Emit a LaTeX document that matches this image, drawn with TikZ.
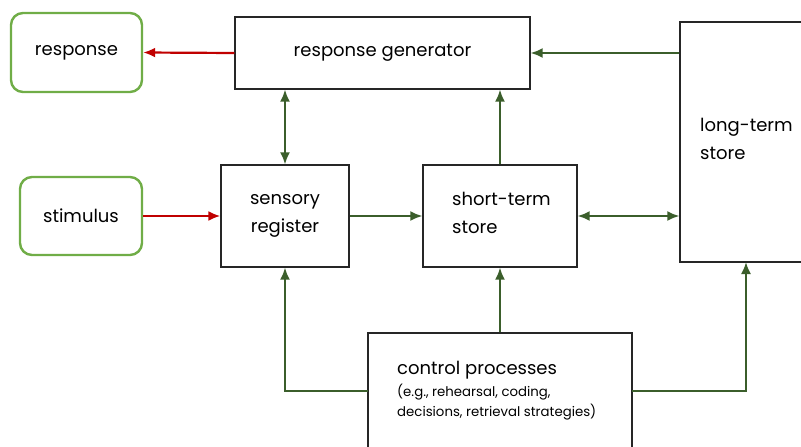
\documentclass[tikz,border=0pt]{standalone}
\usepackage{fontspec}
\setmainfont{Poppins}
\usetikzlibrary{arrows.meta}
\definecolor{boxgreen}{HTML}{70AD47}
\definecolor{linkgreen}{HTML}{3B5E2B}
\definecolor{linkred}{HTML}{C00000}
\tikzset{
  bigtext/.style={font=\fontsize{18}{28}\selectfont},
  smalltext/.style={font=\fontsize{13.3}{20}\selectfont},
  endbox/.style={draw=boxgreen, line width=2.4pt, rounded corners=12pt, fill=white, bigtext},
  stagebox/.style={draw=black!85, line width=1.3pt, fill=white, bigtext, align=center},
  tip/.tip={Latex[length=12pt,width=10pt]},
  flow/.style={draw=linkgreen, line width=2pt, -tip},
  bothway/.style={draw=linkgreen, line width=2pt, tip-tip},
  signal/.style={draw=linkred, line width=2.2pt, -tip},
}
\begin{document}
\begin{tikzpicture}[x=1pt, y=-1pt]
\useasboundingbox (0,0) rectangle (801,447);

% outside world
\node[endbox, minimum width=131pt, minimum height=79pt] (resp) at (76.5,52.5) {response};
\node[endbox, minimum width=122pt, minimum height=78pt] (stim) at (81,216) {stimulus};

% memory stages
\node[stagebox, minimum width=295pt, minimum height=72pt] (gen) at (382.5,53) {response generator};
\node[stagebox, minimum width=128pt, minimum height=102pt] (sens) at (285,216) {sensory\\register};
\node[stagebox, minimum width=154pt, minimum height=102pt] (sts) at (500,216) {};
\node[anchor=west, inner sep=0pt, align=left, bigtext] (ststxt) at (452,213) {short-term\\store};
\node[stagebox, minimum width=140pt, minimum height=240pt] (lts) at (750,142) {};
\node[anchor=west, inner sep=0pt, align=left, bigtext] (ltstxt) at (700,139) {long-term\\store};
\node[stagebox, minimum width=264pt, minimum height=130pt] (ctrl) at (500,398) {};
\node[anchor=base west, inner sep=0pt, bigtext] (ctrltitle) at (397,374) {control processes};
\node[anchor=base west, inner sep=0pt, smalltext] (ctrlex1) at (397,396) {(e.g., rehearsal, coding,};
\node[anchor=base west, inner sep=0pt, smalltext] (ctrlex2) at (397,416) {decisions, retrieval strategies)};

% connections
\coordinate (ctrlL) at (368,391);
\coordinate (ctrlR) at (632,391);
\coordinate (ltsin) at (746,262);
\draw[signal] (gen.west) -- (resp.east);
\draw[signal] (stim.east) -- (sens.west);
\draw[bothway] (sens.north) -- (sens.north |- gen.south);
\draw[flow] (sens.east) -- (sts.west);
\draw[flow] (sts.north) -- (sts.north |- gen.south);
\draw[bothway] (sts.east) -- (sts.east -| lts.west);
\draw[flow] (lts.west |- gen.west) -- (gen.east);
\draw[flow] (ctrl.north) -- (sts.south);
\draw[flow] (ctrlL) -| (sens.south);
\draw[flow] (ctrlR) -| (ltsin);
\end{tikzpicture}
\end{document}
